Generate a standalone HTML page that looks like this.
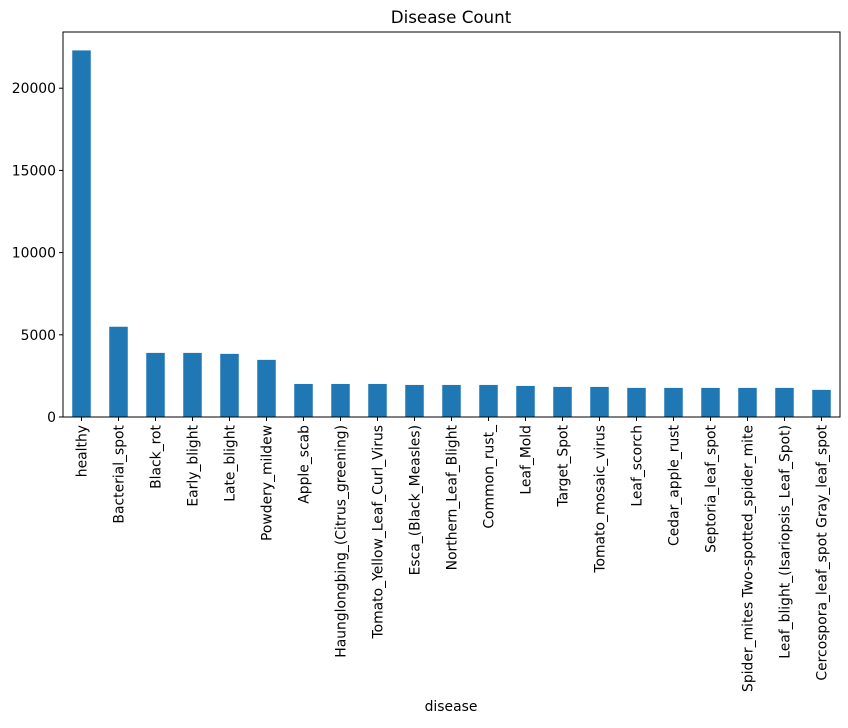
<!DOCTYPE html>
<html><head><meta charset="utf-8"><style>
body{margin:0;background:#fff;font-family:"Liberation Sans","DejaVu Sans",sans-serif;}
svg text{font-family:"DejaVu Sans","Liberation Sans",sans-serif;font-size:13.9px;fill:#000;}
</style></head><body>
<svg id="chart" width="848" height="723">
<text x="451" y="23" text-anchor="middle" style="font-size:16.7px">Disease Count</text>
<g id="bars"></g><g id="xt"></g><g id="yt"></g>
<rect x="63" y="32" width="777" height="385" fill="none" stroke="#000" stroke-width="1"/>
<text x="451" y="711" text-anchor="middle">disease</text>
</svg>
<script>
const categories=["healthy","Bacterial_spot","Black_rot","Early_blight","Late_blight","Powdery_mildew","Apple_scab","Haunglongbing_(Citrus_greening)","Tomato_Yellow_Leaf_Curl_Virus","Esca_(Black_Measles)","Northern_Leaf_Blight","Common_rust_","Leaf_Mold","Target_Spot","Tomato_mosaic_virus","Leaf_scorch","Cedar_apple_rust","Septoria_leaf_spot","Spider_mites Two-spotted_spider_mite","Leaf_blight_(Isariopsis_Leaf_Spot)","Cercospora_leaf_spot Gray_leaf_spot"];
const counts=[22300,5490,3900,3900,3840,3475,2010,2010,2010,1950,1950,1950,1890,1830,1830,1770,1770,1770,1770,1770,1650];
const yTicks=[0,5000,10000,15000,20000];
const L=63,R=840,T=32,B=417,yMax=23420;
const xs=i=>L+(i+0.5)*(R-L)/categories.length;
const ys=v=>B-v*(B-T)/yMax;
const NS="http://www.w3.org/2000/svg";
const bw=(R-L)/categories.length*0.5;
const bars=document.getElementById('bars'),xt=document.getElementById('xt'),yt=document.getElementById('yt');
categories.forEach((c,i)=>{
 const r=document.createElementNS(NS,'rect');
 r.setAttribute('x',xs(i)-bw/2);r.setAttribute('y',ys(counts[i]));
 r.setAttribute('width',bw);r.setAttribute('height',B-ys(counts[i]));r.setAttribute('fill','#1f77b4');
 
 
 bars.appendChild(r);
 const l=document.createElementNS(NS,'line');
 l.setAttribute('x1',xs(i));l.setAttribute('x2',xs(i));l.setAttribute('y1',B);l.setAttribute('y2',B+4);l.setAttribute('stroke','#000');
 
 
 xt.appendChild(l);
 const t=document.createElementNS(NS,'text');
 t.setAttribute('transform',`translate(${xs(i)+5},${B+8}) rotate(-90)`);
 t.setAttribute('text-anchor','end');t.textContent=c;
 
 
 xt.appendChild(t);
});
yTicks.forEach(v=>{
 const l=document.createElementNS(NS,'line');
 l.setAttribute('x1',L-4);l.setAttribute('x2',L);l.setAttribute('y1',ys(v));l.setAttribute('y2',ys(v));l.setAttribute('stroke','#000');
 
 
 yt.appendChild(l);
 const t=document.createElementNS(NS,'text');
 t.setAttribute('x',L-7);t.setAttribute('y',ys(v)+5);t.setAttribute('text-anchor','end');t.textContent=v;
 
 
 yt.appendChild(t);
});
</script>
</body></html>
